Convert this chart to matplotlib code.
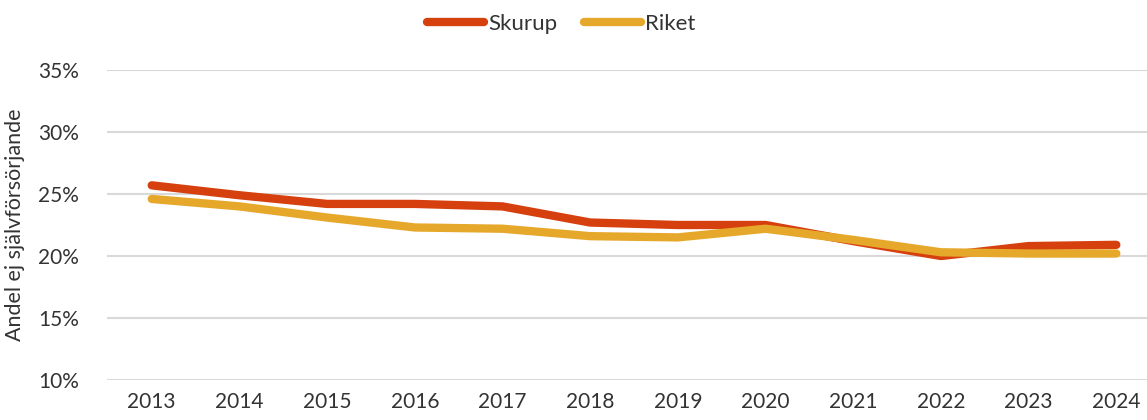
import matplotlib
matplotlib.use("Agg")
import matplotlib.pyplot as plt
from matplotlib.ticker import FuncFormatter

years = [2013, 2014, 2015, 2016, 2017, 2018, 2019, 2020, 2021, 2022, 2023, 2024]
skurup = [25.7, 24.9, 24.2, 24.2, 24.0, 22.7, 22.5, 22.5, 21.2, 20.0, 20.8, 20.9]
riket = [24.6, 24.0, 23.1, 22.3, 22.2, 21.6, 21.5, 22.2, 21.3, 20.3, 20.2, 20.2]
yticks = [10, 15, 20, 25, 30, 35]

plt.rcParams['font.family'] = ['Lato', 'DejaVu Sans']
text_color = '#333333'

fig = plt.figure(figsize=(11.47, 4.2), dpi=100)
ax = fig.add_axes([107 / 1147, 1 - 380 / 420, (1147 - 107) / 1147, 310 / 420])

ax.plot(years, skurup, color='#D63F0E', lw=6, solid_capstyle='round', label='Skurup', zorder=3)
ax.plot(years, riket, color='#E6A82A', lw=6, solid_capstyle='round', label='Riket', zorder=4)

ax.set_ylim(10, 35)
ax.set_xlim(2012.49, 2024.35)
ax.set_yticks(yticks)
ax.yaxis.set_major_formatter(FuncFormatter(lambda v, p: f"{int(v)}%"))
ax.set_xticks(years)
ax.grid(axis='y', color='#d9d9d9', lw=1.5)
ax.set_axisbelow(True)
for s in ax.spines.values():
    s.set_visible(False)
ax.tick_params(axis='both', length=0, labelsize=15, labelcolor=text_color)
ax.tick_params(axis='y', pad=20)
ax.tick_params(axis='x', pad=9)
ax.set_ylabel('Andel ej självförsörjande', fontsize=15.5, color=text_color)
ax.yaxis.set_label_coords(-0.079, 0.5)

leg = fig.legend(loc='upper center', bbox_to_anchor=(0.489, 1.015), ncol=2, frameon=False,
                 fontsize=16, handlelength=2.6, handletextpad=0.15, columnspacing=1.2)
for t in leg.get_texts():
    t.set_color(text_color)

fig.savefig('out.png', dpi=100)
